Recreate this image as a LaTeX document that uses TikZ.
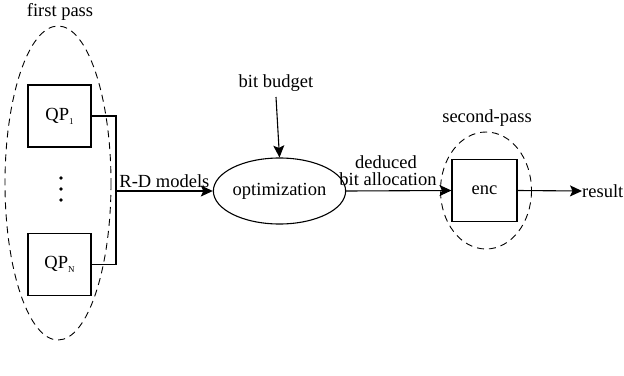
\documentclass[tikz,border=0pt]{standalone}
\usepackage{fontspec}
\setmainfont{Liberation Serif}
\usetikzlibrary{arrows.meta,shapes.geometric}
\newcommand{\mysub}[1]{\raisebox{-4pt}{\fontsize{9}{9}\selectfont #1}}
\tikzset{
  every node/.style={font=\rmfamily\fontsize{18.5}{20}\selectfont, inner sep=0pt},
  box/.style={draw, line width=1.1pt, minimum width=63pt, minimum height=62pt},
  oval/.style={draw, ellipse, line width=1.1pt, minimum width=117pt, minimum height=66pt},
  conn/.style={line width=1.1pt},
  arr/.style={line width=1.1pt, -{Stealth[length=12pt,width=11pt,inset=2.5pt]}},
  group/.style={draw, dashed, dash pattern=on 7pt off 5pt, line width=0.9pt}
}
\begin{document}
\begin{tikzpicture}[x=1pt,y=-1pt]
\useasboundingbox (0,0) rectangle (624,375);
% groups
\draw[group] (58,183) ellipse [x radius=53, y radius=157];
\draw[group] (486,190.5) ellipse [x radius=45.5, y radius=58.5];
\node (fp) at (60,12) {first pass};
\node (sp) at (487,118) {second-pass};
% boxes
\node[box] (qp1) at (59.5,116) {QP\mysub{1}};
\node[box] (qpn) at (59.5,264.5) {QP\mysub{N}};
\foreach \yy in {178,189,200} \fill (61,\yy) circle [radius=1.9pt];
\coordinate (bt) at (116,116);
\coordinate (bb) at (116,264.5);
\coordinate (bm) at (116,191);
\draw[conn] (qp1.east) -- (bt) -- (bb) -- (qpn.east);
\node[oval] (opt) at (279.5,191) {optimization};
\draw[arr] (bm) -- node[above=3pt] {R-D models} (opt.west);
\node (bb2) at (276,83) {bit budget};
\draw[arr] ([yshift=-14pt]bb2.center) -- (opt.north);
\node[box, minimum width=65pt] (enc) at (484.5,190.5) {enc};
\draw[arr] (opt.east) -- (enc.west);
\node (ded) at (386,162) {deduced};
\node (ba) at (388,179) {bit allocation};
\node[anchor=west] (res) at (582,191) {result};
\draw[arr] (enc.east) -- (res.west);
\end{tikzpicture}
\end{document}
